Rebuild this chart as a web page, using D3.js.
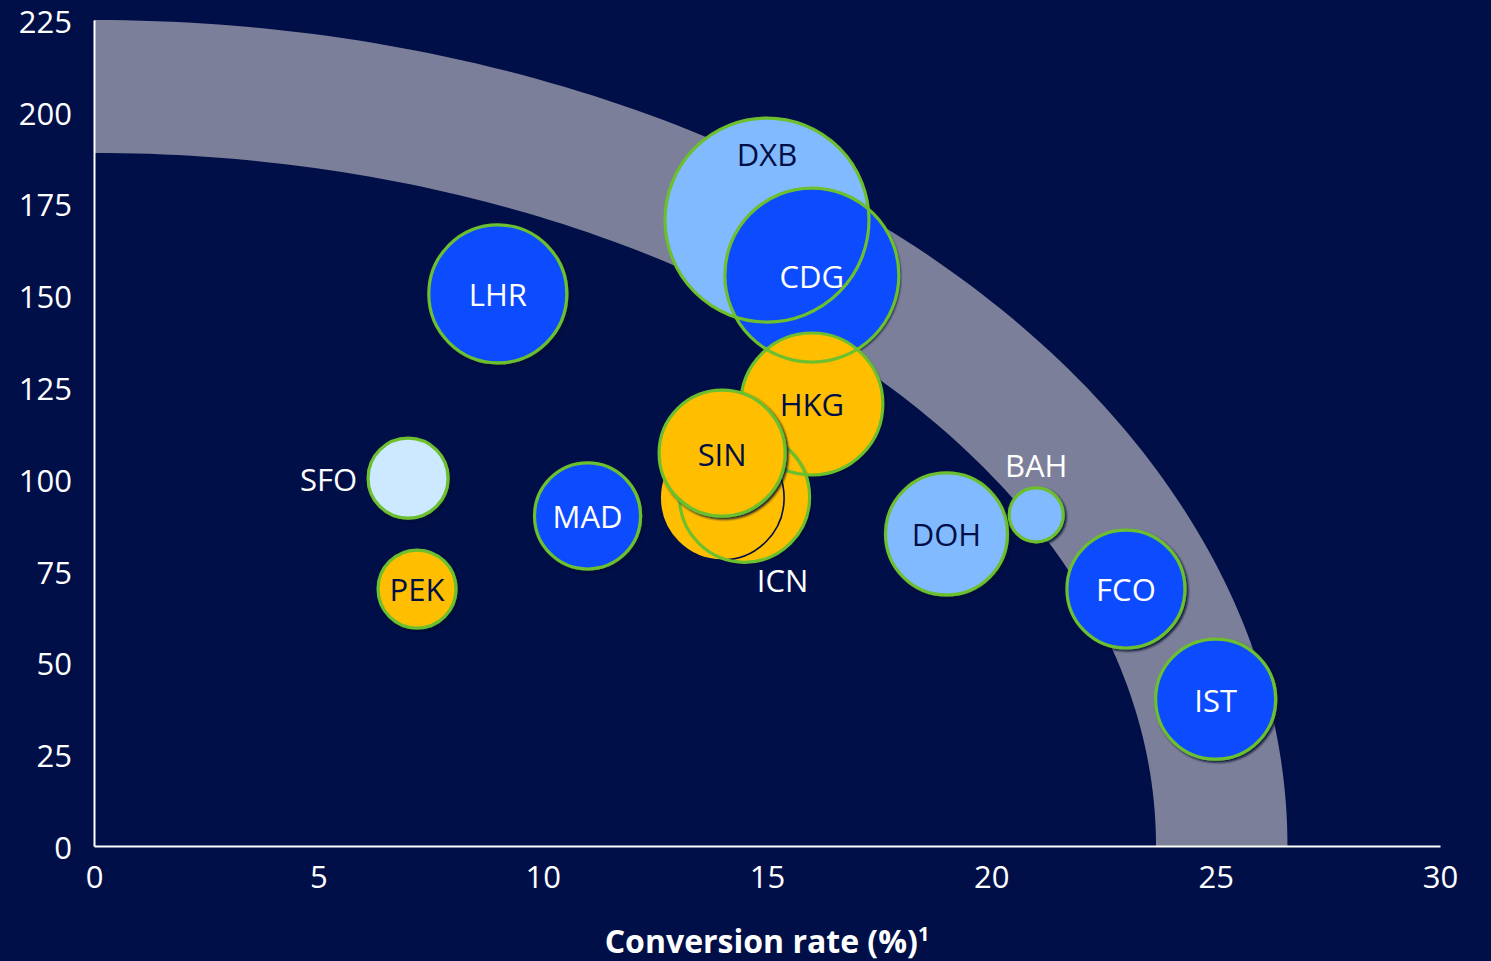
<!DOCTYPE html>
<html>
<head>
<meta charset="utf-8">
<script src="https://cdn.jsdelivr.net/npm/d3@7"></script>
<style>
  html, body { margin: 0; padding: 0; background: #000f47; }
  svg { display: block; }
  text { font-family: "Open Sans", "Noto Sans", sans-serif; }
</style>
</head>
<body>
<svg id="chart" width="1491" height="961"></svg>
<script>
// Airports: conversion rate (%) vs. y value, bubble area = size
const airports    = ["DXB", "CDG", "LHR", "HKG", "ICN", "SIN", "MAD", "SFO", "PEK", "DOH", "BAH", "FCO", "IST"];
const conversion  = [15.0,  16.0,  9.0,   16.0,  14.5,  14.0,  11.0,  7.0,   7.2,   19.0,  21.0,  23.0,  25.0];
const yValues     = [170.5, 155.5, 150.4, 120.4, 95.0,  107.0, 89.9,  100.2, 70.0,  85.0,  90.2,  70.0,  40.0];
const sizes       = [104,   75.7,  47.6,  50.4,  42.3,  39.7,  28.1,  16.0,  15.2,  37.2,  7.3,   34.8,  36.0];
const regions     = ["Middle East", "Europe", "Europe", "Asia", "Asia", "Asia", "Europe", "Americas", "Asia", "Middle East", "Middle East", "Europe", "Europe"];

// Second ICN reading, drawn as an unlabelled disc under the ICN outline
const icnPrior = { conversion: 14.0, y: 94.8, size: 38.4 };

// Efficient-frontier band: intercepts of the outer and inner quarter ellipses
const bandOuter = { x: 26.6, y: 225 };
const bandInner = { x: 23.67, y: 188.8 };

const xTicks = [0, 5, 10, 15, 20, 25, 30];
const yTicks = [0, 25, 50, 75, 100, 125, 150, 175, 200, 225];
const xTitle = "Conversion rate (%)";

const regionFill = {
  "Europe": "#0b4cff",
  "Middle East": "#82baff",
  "Asia": "#ffbf00",
  "Americas": "#cde9ff"
};
const regionText = {
  "Europe": "#ffffff",
  "Middle East": "#000f47",
  "Asia": "#000f47",
  "Americas": "#000f47"
};

const svg = d3.select("#chart");
const W = 1491, H = 961;
const margin = { left: 94, right: 51, top: 20, bottom: 115 };

const x = d3.scaleLinear().domain([0, 30]).range([margin.left, W - margin.right]);
const y = d3.scaleLinear().domain([0, 225]).range([H - margin.bottom, margin.top]);
const r = d3.scaleSqrt().domain([0, 100]).range([0, 100]);

svg.append("rect").attr("width", W).attr("height", H).attr("fill", "#000f47");

const defs = svg.append("defs");
const shadow = defs.append("filter").attr("id", "shadow")
  .attr("x", "-20%").attr("y", "-20%").attr("width", "140%").attr("height", "140%");
shadow.append("feDropShadow")
  .attr("dx", 1.8).attr("dy", 1.8).attr("stdDeviation", 0.8)
  .attr("flood-color", "#000a30").attr("flood-opacity", 0.9);

// Band between two quarter ellipses
const steps = 120;
const outerPts = d3.range(steps + 1).map(i => {
  const t = (i / steps) * Math.PI / 2;
  return [bandOuter.x * Math.sin(t), bandOuter.y * Math.cos(t)];
});
const innerPts = d3.range(steps + 1).map(i => {
  const t = (1 - i / steps) * Math.PI / 2;
  return [bandInner.x * Math.sin(t), bandInner.y * Math.cos(t)];
});
const bandLine = d3.line().x(d => x(d[0])).y(d => y(d[1]));
svg.append("path")
  .attr("d", bandLine(outerPts.concat(innerPts)) + "Z")
  .attr("fill", "#7b7f99");

// Axes (lines only, no tick marks)
const xAxis = svg.append("g")
  .attr("transform", `translate(0,${y(0)})`)
  .call(d3.axisBottom(x).tickValues(xTicks).tickSize(0).tickPadding(18).tickFormat(d3.format("d")));
const yAxis = svg.append("g")
  .attr("transform", `translate(${x(0)},0)`)
  .call(d3.axisLeft(y).tickValues(yTicks).tickSize(0).tickPadding(22).tickFormat(d3.format("d")));
[xAxis, yAxis].forEach(g => {
  g.select(".domain").attr("stroke", "#ffffff").attr("stroke-width", 2);
  g.selectAll("text").attr("fill", "#ffffff").attr("font-size", 31)
    .attr("font-family", "'Open Sans', 'Noto Sans', sans-serif");
});
xAxis.selectAll("text").attr("dy", "0.78em");
yAxis.selectAll("text").attr("dy", "0.4em");

svg.append("text")
  .attr("x", (x(0) + x(30)) / 2).attr("y", 953)
  .attr("text-anchor", "middle")
  .attr("fill", "#ffffff").attr("font-size", 32).attr("font-weight", 700)
  .text(xTitle)
  .append("tspan").attr("font-size", 20).attr("dy", -12).text("1");

// Bubbles
const data = airports.map((code, i) => ({
  code, cx: conversion[i], cy: yValues[i], size: sizes[i], region: regions[i]
}));
const byCode = Object.fromEntries(data.map(d => [d.code, d]));

const green = "#6cbf2d";
const bubbles = svg.append("g");

function disc(d, withFill, withStroke) {
  return bubbles.append("circle")
    .attr("cx", x(d.cx)).attr("cy", y(d.cy)).attr("r", r(d.size))
    .attr("fill", withFill ? regionFill[d.region] : "none")
    .attr("stroke", withStroke ? green : "none")
    .attr("stroke-width", 3.2);
}

// Separate bubbles
["SFO", "PEK", "MAD", "LHR", "DOH", "BAH", "FCO", "IST"].forEach(c => {
  disc(byCode[c], true, true).attr("filter", "url(#shadow)");
});

// Overlapping cluster: fills first, outlines afterwards
const cluster = ["DXB", "CDG", "HKG", "ICN"];
cluster.forEach(c => disc(byCode[c], true, false).attr("filter", "url(#shadow)"));
bubbles.append("circle")
  .attr("cx", x(icnPrior.conversion)).attr("cy", y(icnPrior.y)).attr("r", r(icnPrior.size))
  .attr("fill", regionFill["Asia"])
  .attr("stroke", "#000f47").attr("stroke-width", 1.6);
cluster.forEach(c => disc(byCode[c], false, true));
disc(byCode["SIN"], true, true).attr("filter", "url(#shadow)");

// Labels
const labelPlacement = { DXB: "top", ICN: "below", SFO: "left", BAH: "above" };
const labels = svg.append("g").attr("font-size", 31);
data.forEach(d => {
  const place = labelPlacement[d.code];
  const cx = x(d.cx), cy = y(d.cy), rad = r(d.size);
  let lx = cx, ly = cy, anchor = "middle", fill = regionText[d.region];
  if (place === "top") { ly = cy - rad * 0.65; }
  else if (place === "below") { lx = cx + 38; ly = cy + rad + 17; fill = "#ffffff"; }
  else if (place === "left") { lx = cx - rad - 11; anchor = "end"; fill = "#ffffff"; }
  else if (place === "above") { ly = cy - rad - 23; fill = "#ffffff"; }
  labels.append("text")
    .attr("x", lx).attr("y", ly).attr("dy", "0.4em")
    .attr("text-anchor", anchor).attr("fill", fill)
    .text(d.code);
});
</script>
</body>
</html>
